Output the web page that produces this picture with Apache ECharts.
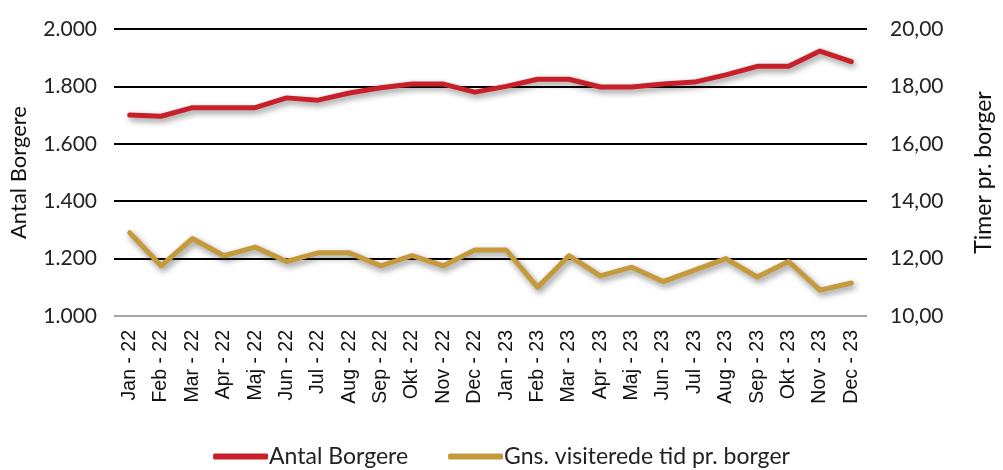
<!DOCTYPE html>
<html><head><meta charset="utf-8">
<script src="https://cdn.jsdelivr.net/npm/echarts@6/dist/echarts.min.js"></script>
<style>html,body{margin:0;padding:0;background:#fff}#c{width:1003px;height:470px}</style>
</head><body><div id="c"></div>
<script>
const categories = ['Jan - 22','Feb - 22','Mar - 22','Apr - 22','Maj - 22','Jun - 22','Jul - 22','Aug - 22','Sep - 22','Okt - 22','Nov - 22','Dec - 22',
  'Jan - 23','Feb - 23','Mar - 23','Apr - 23','Maj - 23','Jun - 23','Jul - 23','Aug - 23','Sep - 23','Okt - 23','Nov - 23','Dec - 23'];
const antalBorgere = [1700,1696,1726,1726,1726,1760,1752,1777,1795,1808,1808,1780,1800,1825,1825,1798,1798,1808,1815,1840,1870,1870,1923,1886];
const gnsTid = [12.9,11.75,12.7,12.1,12.4,11.9,12.2,12.2,11.75,12.1,11.75,12.3,12.3,11.0,12.1,11.4,11.7,11.2,11.6,12.0,11.36,11.9,10.9,11.15];
const seriesNames = ['Antal Borgere','Gns. visiterede tid pr. borger'];
const leftAxisName = 'Antal Borgere';
const rightAxisName = 'Timer pr. borger';

const narrow = 'Lato, sans-serif';
const chart = echarts.init(document.getElementById('c'));
const shadow = {shadowColor:'rgba(0,0,0,0.45)', shadowBlur:6, shadowOffsetX:2, shadowOffsetY:3};
chart.setOption({
  animation:false,
  grid:{left:112,right:117,top:29,bottom:154},
  legend:{bottom:-3,left:'center',itemWidth:55,itemHeight:6,itemGap:40,icon:'roundRect',
    textStyle:{fontFamily:narrow,fontSize:23,color:'#222',padding:[0,0,0,-4]},data:seriesNames},
  xAxis:{type:'category',data:categories,boundaryGap:true,
    axisLine:{show:false},axisTick:{show:false},
    axisLabel:{rotate:90,interval:0,fontFamily:'"Liberation Sans", Arial, sans-serif',fontSize:19.5,color:'#111',margin:14}},
  yAxis:[
    {type:'value',min:1000,max:2000,interval:200,position:'left',
     name:leftAxisName,nameLocation:'middle',nameGap:84,nameRotate:90,
     nameTextStyle:{fontFamily:narrow,fontSize:22,color:'#111'},
     axisLine:{show:false},axisTick:{show:false},
     axisLabel:{fontFamily:narrow,fontSize:21,color:'#222',margin:17,
       formatter:v=>String(v).replace(/\B(?=(\d{3})+(?!\d))/g,'.')},
     splitLine:{lineStyle:{color:'#000',width:2}}},
    {type:'value',min:10,max:20,interval:2,position:'right',
     name:rightAxisName,nameLocation:'middle',nameGap:105,nameRotate:90,
     nameTextStyle:{fontFamily:narrow,fontSize:23,color:'#111'},
     axisLine:{show:false},axisTick:{show:false},
     axisLabel:{fontFamily:narrow,fontSize:21,color:'#222',margin:23,
       formatter:v=>v.toFixed(2).replace('.',',')},
     splitLine:{show:false}}
  ],
  series:[
    {name:seriesNames[0],type:'line',yAxisIndex:0,data:antalBorgere,symbol:'none',
     itemStyle:{color:'#C8202B'},lineStyle:Object.assign({width:5,color:'#C8202B',cap:'round',join:'round'},shadow)},
    {name:seriesNames[1],type:'line',yAxisIndex:1,data:gnsTid,symbol:'none',
     itemStyle:{color:'#C49A3B'},lineStyle:Object.assign({width:5,color:'#C49A3B',cap:'round',join:'round'},shadow),
     markLine:{silent:true,symbol:'none',label:{show:false},lineStyle:{color:'#A6A6A6',width:2,type:'solid',shadowBlur:0},data:[{yAxis:10}]}}
  ]
});
</script></body></html>
